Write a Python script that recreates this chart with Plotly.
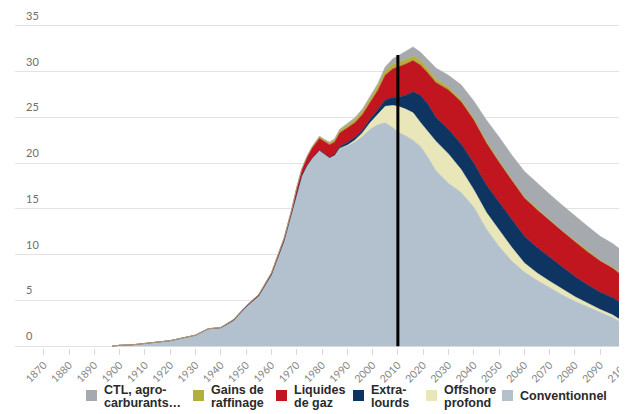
import plotly.graph_objects as go

# ---------------- data (Mb/j) ----------------
years = [1897, 1900, 1905, 1910, 1915, 1920, 1925, 1930, 1935,
         1940, 1945, 1950, 1955, 1960, 1965, 1968, 1970, 1972, 1974,
         1976, 1979, 1981, 1983, 1985, 1987, 1990, 1993, 1996, 1999,
         2002, 2005, 2008, 2010, 2013, 2016, 2019, 2022, 2025, 2030,
         2035, 2040, 2045, 2050, 2055, 2060, 2065, 2070, 2075, 2080,
         2085, 2090, 2095, 2100]

conventionnel = [0, 0.1, 0.15, 0.3, 0.4, 0.6, 0.9, 1.2, 1.9,
                 2.0, 2.8, 4.3, 5.5, 7.8, 11.5, 14.5, 16.8, 18.6, 19.7,
                 20.5, 21.4, 21.0, 20.6, 20.8, 21.6, 21.9, 22.3, 22.9, 23.7,
                 24.2, 24.4, 23.9, 23.4, 23.0, 22.5, 21.8, 20.6, 19.2, 17.8,
                 16.8, 15.2, 12.8, 10.9, 9.3, 8.1, 7.2, 6.4, 5.6, 4.9,
                 4.3, 3.7, 3.1, 2.3]

offshore_profond = [0, 0, 0, 0, 0, 0, 0, 0, 0,
                    0, 0, 0, 0, 0, 0, 0, 0, 0, 0,
                    0, 0, 0, 0, 0, 0, 0.05, 0.2, 0.4, 0.7,
                    1.1, 1.8, 2.4, 2.8, 2.9, 3.0, 2.6, 2.8, 3.2, 3.2,
                    2.5, 1.9, 1.8, 1.8, 1.5, 1.0, 0.8, 0.7, 0.6, 0.5,
                    0.4, 0.3, 0.3, 0.2]

extra_lourds = [0, 0, 0, 0, 0, 0, 0, 0, 0,
                0, 0, 0, 0, 0, 0, 0, 0, 0, 0,
                0, 0, 0, 0, 0.1, 0.2, 0.3, 0.3, 0.3, 0.4,
                0.5, 0.7, 0.9, 1.0, 1.5, 2.3, 3.0, 3.0, 2.6, 2.7,
                2.8, 2.9, 3.0, 3.0, 3.0, 2.9, 2.8, 2.6, 2.4, 2.2,
                2.0, 1.9, 1.9, 1.9]

liquides_gaz = [0, 0, 0, 0, 0, 0, 0, 0, 0,
                0.05, 0.1, 0.1, 0.15, 0.2, 0.3, 0.4, 0.5, 0.7, 0.9,
                1.1, 1.3, 1.3, 1.4, 1.4, 1.5, 1.6, 1.6, 1.7, 1.8,
                2.1, 2.7, 3.1, 3.3, 3.4, 3.4, 3.3, 3.4, 3.8, 4.3,
                4.6, 4.7, 4.6, 4.4, 4.3, 4.2, 4.1, 4.0, 3.9, 3.8,
                3.6, 3.4, 3.2, 3.0]

gains_raffinage = [0, 0, 0, 0, 0, 0, 0, 0, 0,
                   0, 0, 0, 0, 0, 0, 0, 0, 0.05, 0.1,
                   0.15, 0.2, 0.2, 0.2, 0.25, 0.3, 0.3, 0.35, 0.4, 0.4,
                   0.45, 0.5, 0.5, 0.5, 0.5, 0.5, 0.5, 0.45, 0.4, 0.3,
                   0.25, 0.2, 0.2, 0.15, 0.1, 0.1, 0.1, 0.1, 0.1, 0.1,
                   0.1, 0.1, 0.1, 0.1]

ctl_agro = [0, 0, 0, 0, 0, 0, 0, 0, 0,
            0, 0, 0, 0, 0, 0, 0, 0, 0, 0,
            0, 0.05, 0.05, 0.1, 0.1, 0.1, 0.15, 0.2, 0.2, 0.25,
            0.3, 0.4, 0.6, 0.7, 0.9, 1.0, 0.9, 1.0, 1.2, 1.3,
            1.6, 1.9, 2.3, 2.6, 2.7, 2.8, 2.8, 2.8, 2.8, 2.7,
            2.7, 2.6, 2.6, 2.6]

x_tick_values = list(range(1870, 2101, 10))
x_tick_labels = [str(v) for v in x_tick_values]
y_tick_values = [0, 5, 10, 15, 20, 25, 30, 35]
y_tick_labels = [str(v) for v in y_tick_values]

current_year = 2010
current_total = 31.8

# series in stacking order (bottom first)
series = [
    ("Conventionnel", conventionnel, "#b3c1cf"),
    ("Offshore profond", offshore_profond, "#e9e6b9"),
    ("Extra-lourds", extra_lourds, "#0e3461"),
    ("Liquides de gaz", liquides_gaz, "#c1161f"),
    ("Gains de raffinage", gains_raffinage, "#b3af3c"),
    ("CTL, agro-carburants…", ctl_agro, "#a6a9ae"),
]

# legend (drawn manually, left to right)
legend_lines = [
    ["CTL, agro-", "carburants…"],
    ["Gains de", "raffinage"],
    ["Liquides", "de gaz"],
    ["Extra-", "lourds"],
    ["Offshore", "profond"],
    ["Conventionnel"],
]
legend_colors = ["#a6a9ae", "#b3af3c", "#c1161f", "#0e3461", "#e9e6b9", "#b3c1cf"]
legend_px = [86, 193, 276, 353, 426, 502]

# ---------------- layout geometry ----------------
OFF = 8  # page body margin
W, H = 627 - OFF, 414 - OFF
ML, MR, MT, MB = 7, 0, 16, 66
PW, PH = W - ML - MR, H - MT - MB


def xp(px):
    return (px - OFF - ML) / PW


def yp(py):
    return (H - MB - (py - OFF)) / PH


fig = go.Figure()
for name, vals, col in series:
    fig.add_trace(go.Scatter(
        x=years, y=vals, name=name, mode="lines",
        stackgroup="one", line=dict(width=0.6, color=col),
        fillcolor=col, showlegend=False, hoverinfo="skip",
    ))

shapes = [dict(type="line", xref="x", yref="y",
               x0=current_year, x1=current_year, y0=0, y1=current_total,
               line=dict(color="black", width=3), layer="above")]

annotations = []
for v, t in zip(y_tick_values, y_tick_labels):
    annotations.append(dict(xref="paper", yref="y", x=xp(24), y=v,
                            xanchor="left", yanchor="bottom", yshift=2,
                            text=t, showarrow=False,
                            font=dict(family="Lato, sans-serif", size=11, color="#6e6e6e")))

for lines, col, px in zip(legend_lines, legend_colors, legend_px):
    shapes.append(dict(type="rect", xref="paper", yref="paper",
                       x0=xp(px), x1=xp(px + 11), y0=yp(401), y1=yp(390),
                       fillcolor=col, line=dict(width=0), layer="above"))
    centers = [396] if len(lines) == 1 else [389.5, 402.5]
    for ln, cy in zip(lines, centers):
        annotations.append(dict(xref="paper", yref="paper", x=xp(px + 16), y=yp(cy),
                                xanchor="left", yanchor="middle", text=ln, showarrow=False,
                                font=dict(family="Liberation Sans, Arial, sans-serif",
                                          size=12.5, color="#2a2a2a", weight="bold")))

fig.update_layout(
    width=W, height=H,
    margin=dict(l=ML, r=MR, t=MT, b=MB, pad=0, autoexpand=False),
    paper_bgcolor="white", plot_bgcolor="white",
    showlegend=False,
    shapes=shapes, annotations=annotations,
    xaxis=dict(range=[1858.6, 2100.6], tickmode="array", tickvals=x_tick_values,
               ticktext=x_tick_labels, tickangle=-45, showgrid=False, zeroline=False,
               showline=False, ticks="outside", ticklen=6, tickcolor="#d8d8d8",
               automargin=False, ticklabeloverflow="allow",
               tickfont=dict(family="Lato, sans-serif", size=10.5, color="#858585")),
    yaxis=dict(range=[-0.2, 35.2], tickmode="array", tickvals=y_tick_values,
               showticklabels=False, showgrid=True, gridcolor="#e3e3e3", gridwidth=1,
               zeroline=False, showline=False, automargin=False),
)

fig.write_html("out.html")
